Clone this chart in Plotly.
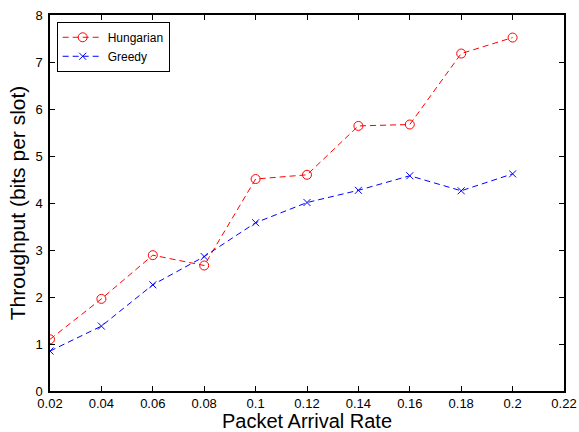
import plotly.graph_objects as go

rates = [0.02, 0.04, 0.06, 0.08, 0.1, 0.12, 0.14, 0.16, 0.18, 0.2]
hungarian = [1.1, 1.96, 2.89, 2.67, 4.51, 4.6, 5.64, 5.67, 7.18, 7.52]
greedy = [0.85, 1.38, 2.26, 2.86, 3.58, 4.01, 4.27, 4.58, 4.26, 4.62]
x_ticks = [0.02, 0.04, 0.06, 0.08, 0.1, 0.12, 0.14, 0.16, 0.18, 0.2, 0.22]
x_labels = ["0.02", "0.04", "0.06", "0.08", "0.1", "0.12", "0.14", "0.16", "0.18", "0.2", "0.22"]
y_ticks = [0, 1, 2, 3, 4, 5, 6, 7, 8]

fig = go.Figure()
fig.add_trace(go.Scatter(
    x=rates, y=hungarian, name="Hungarian", mode="lines+markers",
    line=dict(color="#ff0000", width=1, dash="6px,4px"),
    marker=dict(symbol="circle-open", size=9, color="#ff0000", line=dict(width=1)),
))
fig.add_trace(go.Scatter(
    x=rates, y=greedy, name="Greedy", mode="lines+markers",
    line=dict(color="#0000ff", width=1, dash="6px,4px"),
    marker=dict(symbol="x-thin-open", size=7, color="#0000ff", line=dict(width=1, color="#0000ff")),
))

axis_common = dict(
    showgrid=False, zeroline=False, showline=True, linecolor="black", linewidth=1.5,
    mirror="ticks", ticks="inside", ticklen=5, tickcolor="black", automargin=False,
    tickfont=dict(family="Liberation Sans, Arial, sans-serif", size=13, color="black"),
)
fig.update_layout(
    width=579, height=432,
    margin=dict(l=50, r=15, t=15, b=41),
    paper_bgcolor="white", plot_bgcolor="white",
    font=dict(family="Liberation Sans, Arial, sans-serif", color="black"),
    xaxis=dict(range=[0.02, 0.22], tickvals=x_ticks, ticktext=x_labels,
               title=dict(text="Packet Arrival Rate", font=dict(size=20), standoff=1), **axis_common),
    yaxis=dict(range=[0, 8], tickvals=y_ticks, ticklabelstandoff=3,
               title=dict(text="Throughput (bits per slot)", font=dict(size=21), standoff=4), **axis_common),
    legend=dict(x=0.013, y=0.982, xanchor="left", yanchor="top",
                bordercolor="black", borderwidth=1, bgcolor="white",
                font=dict(size=12), tracegroupgap=0, itemwidth=40),
    showlegend=True,
)

fig.write_html("out.html", config={"displayModeBar": False},
               post_script="document.body.style.margin='0';document.body.style.overflow='hidden';")
